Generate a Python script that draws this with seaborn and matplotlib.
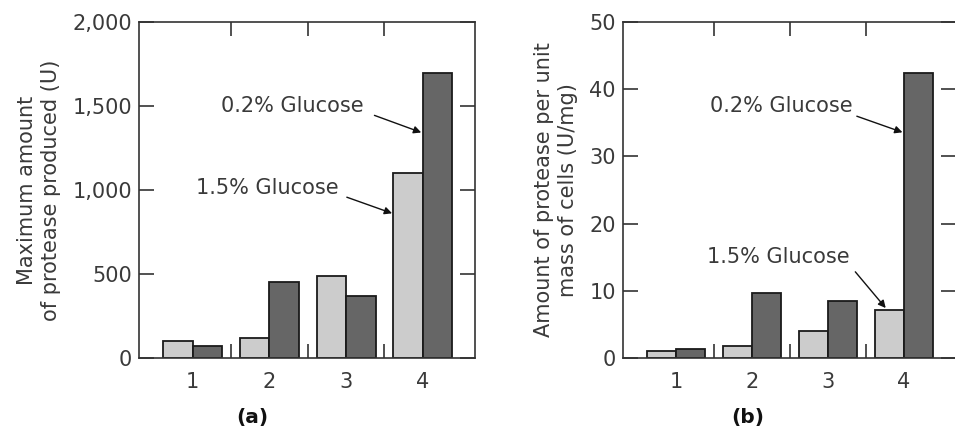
import pandas as pd
import matplotlib
matplotlib.use('Agg')
import matplotlib.pyplot as plt
import seaborn as sns

# Data
categories = ["1", "2", "3", "4"]
series = ["1.5% Glucose", "0.2% Glucose"]
protease_max_low = [100, 120, 490, 1100]     # 1.5% glucose
protease_max_high = [70, 450, 365, 1700]     # 0.2% glucose
protease_unit_low = [1.0, 1.8, 4.0, 7.1]
protease_unit_high = [1.3, 9.6, 8.4, 42.4]

colors = ["#cccccc", "#666666"]
text_color = "#3a3a3a"

sns.set_theme(style="white")
plt.rcParams['font.family'] = ['DejaVu Sans']


def long_frame(low, high):
    return pd.DataFrame({
        "cat": categories * 2,
        "series": [series[0]] * 4 + [series[1]] * 4,
        "value": list(low) + list(high),
    })


def draw_panel(ax, df, ymax, yticks, ylabel, notes):
    sns.barplot(data=df, x="cat", y="value", hue="series", hue_order=series,
                palette=colors, width=0.77, edgecolor="#1a1a1a", linewidth=1.3,
                saturation=1, legend=False, ax=ax)
    ax.set_xlim(-0.7, 3.68)
    ax.set_ylim(0, ymax)
    ax.set_yticks(yticks)
    ax.set_yticklabels([f"{t:,}" for t in yticks])
    ax.set_xlabel("")
    ax.set_ylabel(ylabel, fontsize=15, color=text_color, labelpad=8,
                  linespacing=1.25)
    for sp in ax.spines.values():
        sp.set_visible(True)
        sp.set_color("#333333")
        sp.set_linewidth(1.2)
    ax.tick_params(axis="x", which="major", length=0, pad=10,
                   labelsize=15, labelcolor=text_color)
    ax.set_xticks([0.5, 1.5, 2.5], minor=True)
    ax.tick_params(axis="x", which="minor", direction="in", length=10,
                   width=1.2, color="#333333", top=True, bottom=True)
    ax.tick_params(axis="y", direction="in", length=11, width=1.2,
                   color="#333333", left=True, right=True, pad=5,
                   labelsize=15, labelcolor=text_color)
    for label, txt_xy, tail, head in notes:
        ax.text(txt_xy[0], txt_xy[1], label, ha="right", va="center",
                fontsize=15, color=text_color)
        ax.annotate("", xy=head, xytext=tail,
                    arrowprops=dict(arrowstyle="-|>", color="#111111", lw=1.0,
                                    mutation_scale=11, shrinkA=0, shrinkB=0))


fig = plt.figure(figsize=(9.55, 4.28), dpi=100)
ax1 = fig.add_axes([0.1455, 0.1643, 0.3518, 0.7836])
ax2 = fig.add_axes([0.652, 0.1643, 0.3487, 0.7836])

draw_panel(ax1, long_frame(protease_max_low, protease_max_high), 2000,
           [0, 500, 1000, 1500, 2000],
           "Maximum amount\nof protease produced (U)",
           [("0.2% Glucose", (2.23, 1498), (2.37, 1445), (2.98, 1343)),
            ("1.5% Glucose", (1.90, 1010), (2.01, 957), (2.60, 861))])

draw_panel(ax2, long_frame(protease_unit_low, protease_unit_high), 50,
           [0, 10, 20, 30, 40, 50],
           "Amount of protease per unit\nmass of cells (U/mg)",
           [("0.2% Glucose", (2.32, 37.5), (2.38, 36.0), (2.98, 33.6)),
            ("1.5% Glucose", (2.29, 15.0), (2.36, 12.8), (2.76, 7.4))])

fig.text(252 / 955, 1 - 418 / 428, "(a)", ha="center", va="center",
         fontsize=14.5, fontweight="bold", color="#111111")
fig.text(748 / 955, 1 - 418 / 428, "(b)", ha="center", va="center",
         fontsize=14.5, fontweight="bold", color="#111111")

fig.savefig("out.png", dpi=100)
